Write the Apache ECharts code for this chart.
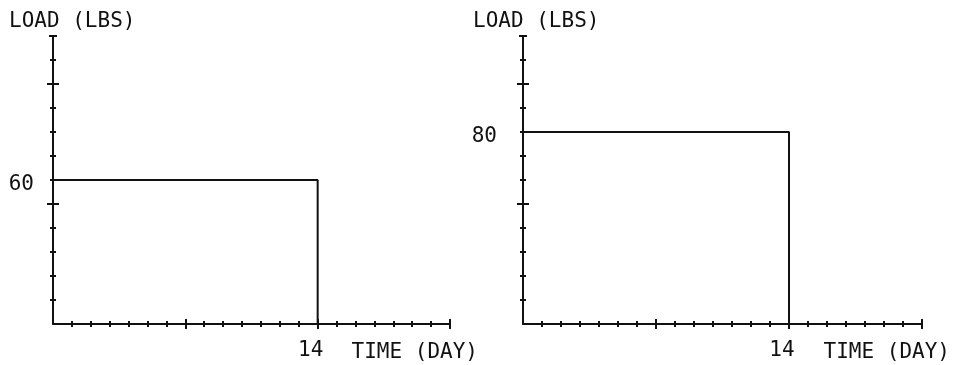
<!DOCTYPE html>
<html>
<head>
<meta charset="utf-8">
<script src="https://cdn.jsdelivr.net/npm/echarts@6/dist/echarts.min.js"></script>
<style>html,body{margin:0;padding:0;background:#fff}#c{width:958px;height:365px}</style>
</head>
<body>
<div id="c"></div>
<script>
// Data
const days = [0, 14, 14];
const loadLeft = [60, 60, 0];
const loadRight = [80, 80, 0];
const xLabelValues = [14];
const yLabelLeft = [60];
const yLabelRight = [80];
const xMinorTicks = [1,2,3,4,5,6,8,9,10,11,12,13,15,16,17,18,19,20];
const xMajorTicks = [7, 14, 21];
const yMinorTicks = [10,20,30,40,60,70,80,90,110];
const yMajorTicks = [50, 100];
const yEndTick = [120];
const xName = 'TIME (DAY)';
const yName = 'LOAD (LBS)';

const INK = '#111';
const FONT = 'DejaVu Sans Mono';
const FS = 21;

const chart = echarts.init(document.getElementById('c'), null, {renderer: 'canvas'});

function tickAxis(gi, pos, max, values, half) {
  return {gridIndex: gi, type: 'value', position: pos, min: 0, max: max, interval: 1, offset: -half,
    axisLine: {show: false, onZero: false}, splitLine: {show: false}, axisLabel: {show: false},
    axisTick: {show: true, length: half * 2, customValues: values, lineStyle: {color: INK, width: 2}}};
}

function xAxes(gi) {
  return [
    {gridIndex: gi, type: 'value', position: 'bottom', min: 0, max: 21, interval: 1,
     axisLine: {show: true, onZero: false, lineStyle: {color: INK, width: 2}},
     axisTick: {show: false}, splitLine: {show: false},
     axisLabel: {show: true, customValues: xLabelValues, margin: 16, color: INK,
       fontFamily: FONT, fontSize: FS, padding: [0, 14, 0, 0]},
     name: xName, nameLocation: 'end', nameGap: 28,
     nameTextStyle: {color: INK, fontFamily: FONT, fontSize: FS, align: 'right',
       verticalAlign: 'top', padding: [18, 0, 0, 0]}},
    tickAxis(gi, 'bottom', 21, xMinorTicks, 3),
    tickAxis(gi, 'bottom', 21, xMajorTicks, 5)
  ];
}
function yAxes(gi, labels, margin) {
  return [
    {gridIndex: gi, type: 'value', position: 'left', min: 0, max: 120, interval: 10,
     axisLine: {show: true, onZero: false, lineStyle: {color: INK, width: 2}},
     axisTick: {show: false}, splitLine: {show: false},
     axisLabel: {show: true, customValues: labels, margin: margin, color: INK,
       fontFamily: FONT, fontSize: FS, verticalAlign: 'top', padding: [-6, 0, 0, 0]}},
    tickAxis(gi, 'left', 120, yMinorTicks, 3),
    tickAxis(gi, 'left', 120, yMajorTicks, 6),
    tickAxis(gi, 'left', 120, yEndTick, 4)
  ];
}

function pairs(xs, ys) { return xs.map((x, i) => [x, ys[i]]); }

const option = {
  animation: false,
  backgroundColor: '#fff',
  grid: [
    {left: 53, right: 508, top: 36, bottom: 41},
    {left: 523, right: 36, top: 36, bottom: 41}
  ],
  xAxis: [...xAxes(0), ...xAxes(1)],
  yAxis: [...yAxes(0, yLabelLeft, 19), ...yAxes(1, yLabelRight, 26)],
  graphic: [
    {type: 'text', left: 9, top: 11, style: {text: yName, fill: INK, font: FS + 'px "' + FONT + '"'}},
    {type: 'text', left: 473, top: 11, style: {text: yName, fill: INK, font: FS + 'px "' + FONT + '"'}}
  ],
  series: [
    {type: 'line', xAxisIndex: 0, yAxisIndex: 0, data: pairs(days, loadLeft), symbol: 'none',
     lineStyle: {color: INK, width: 2}},
    {type: 'line', xAxisIndex: 3, yAxisIndex: 4, data: pairs(days, loadRight), symbol: 'none',
     lineStyle: {color: INK, width: 2}}
  ]
};
chart.setOption(option);
</script>
</body>
</html>
